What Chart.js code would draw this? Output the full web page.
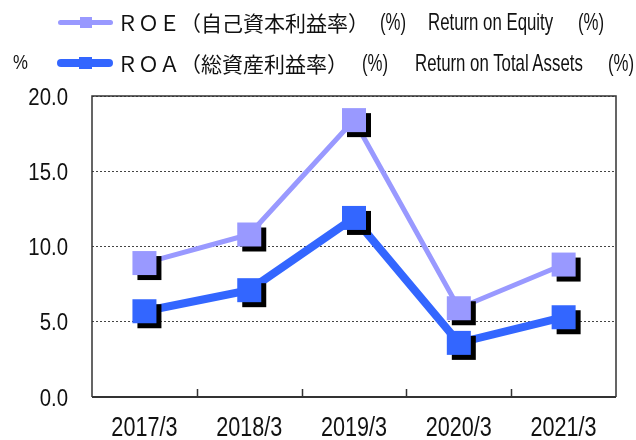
<!DOCTYPE html>
<html>
<head>
<meta charset="utf-8">
<script src="https://cdn.jsdelivr.net/npm/chart.js@4"></script>
<style>
	body { margin: 0; background: #fff; }
	.wrap { position: relative; width: 636px; height: 440px; }
	.wrap canvas { position: absolute; left: 0; top: 0; }
	.lg-line { position: absolute; border-radius: 4px; }
	.lg-mark { position: absolute; }
	.jp, .en, .unit {
		position: absolute; height: 30px; line-height: 30px;
		color: #111; white-space: pre;
	}
	.jp { font-family: "Noto Sans CJK JP", sans-serif; font-size: 21px; }
	.en {
		font-family: "Liberation Sans", Arial, sans-serif; font-size: 24px;
		transform: scaleX(0.7); transform-origin: 0 50%;
	}
	.unit {
		font-family: "Liberation Sans", Arial, sans-serif; font-size: 21px; left: 13px; top: 47px;
		transform: scaleX(0.8); transform-origin: 0 50%;
	}
</style>
</head>
<body>
<div class="wrap">
	<canvas id="chart" width="636" height="440"></canvas>

	<div class="lg-line" style="left:58px;width:55px;top:20px;height:5px;background:#9999FF"></div>
	<div class="lg-mark" style="left:80px;top:17px;width:12px;height:11px;background:#9999FF"></div>
	<div class="jp" style="left:117px;top:7px">ＲＯＥ（自己資本利益率）</div>
	<div class="en" style="left:380px;top:7px">(%)</div>
	<div class="en" style="left:428px;top:7px">Return on Equity</div>
	<div class="en" style="left:578px;top:7px">(%)</div>

	<div class="unit">%</div>
	<div class="lg-line" style="left:57px;width:56px;top:59px;height:8px;background:#3366FF"></div>
	<div class="lg-mark" style="left:79px;top:57px;width:13px;height:12px;background:#3366FF"></div>
	<div class="jp" style="left:117px;top:48px">ＲＯＡ（総資産利益率）</div>
	<div class="en" style="left:362px;top:48px">(%)</div>
	<div class="en" style="left:415px;top:48px">Return on Total Assets</div>
	<div class="en" style="left:608px;top:48px">(%)</div>
</div>

<script>
var categories = ['2017/3', '2018/3', '2019/3', '2020/3', '2021/3'];
var roeValues = [8.9, 10.8, 18.4, 5.9, 8.8];
var roaValues = [5.7, 7.1, 11.9, 3.6, 5.3];
var yTicks = [0, 5, 10, 15, 20];

var tickFont = '"Liberation Sans", Arial, sans-serif';

// square marker with a black drop shadow
function makeMarker(color) {
	var c = document.createElement('canvas');
	c.width = 42;
	c.height = 42;
	var ctx = c.getContext('2d');
	ctx.fillStyle = '#000';
	ctx.fillRect(14, 14, 24, 24);
	ctx.fillStyle = color;
	ctx.fillRect(9, 9, 24, 24);
	return c;
}

// condensed text, like Arial Narrow
function narrowText(ctx, text, x, y, sx) {
	ctx.save();
	ctx.translate(x, y);
	ctx.scale(sx, 1);
	ctx.fillText(text, 0, 0);
	ctx.restore();
}

// frame round the plot + small ticks between categories on the x axis
var framePlugin = {
	id: 'frame',
	beforeDatasetsDraw: function (chart) {
		var ctx = chart.ctx;
		var a = chart.chartArea;
		var x = chart.scales.x;
		ctx.save();
		ctx.strokeStyle = '#333';
		ctx.lineWidth = 1.5;
		ctx.beginPath();
		ctx.moveTo(a.left, a.bottom);
		ctx.lineTo(a.left, a.top);
		ctx.lineTo(a.right, a.top);
		ctx.lineTo(a.right, a.bottom);
		ctx.stroke();

		ctx.lineWidth = 2;
		ctx.beginPath();
		ctx.moveTo(a.left, a.bottom);
		ctx.lineTo(a.right, a.bottom);
		ctx.stroke();

		ctx.lineWidth = 1.5;
		ctx.beginPath();
		for (var i = 1; i < categories.length; i++) {
			var px = Math.round((x.getPixelForValue(i - 1) + x.getPixelForValue(i)) / 2) + 0.5;
			ctx.moveTo(px, a.bottom);
			ctx.lineTo(px, a.bottom - 8);
		}
		ctx.stroke();
		ctx.restore();
	},
	// tick labels drawn by hand so they can be narrow
	afterDraw: function (chart) {
		var ctx = chart.ctx;
		var a = chart.chartArea;
		var x = chart.scales.x;
		var y = chart.scales.y;
		ctx.save();
		ctx.fillStyle = '#111';

		ctx.font = '24px ' + tickFont;
		ctx.textAlign = 'right';
		ctx.textBaseline = 'middle';
		y.ticks.forEach(function (t) {
			narrowText(ctx, t.value.toFixed(1), a.left - 24, y.getPixelForValue(t.value) + 2, 0.85);
		});

		ctx.font = '27px ' + tickFont;
		ctx.textAlign = 'center';
		ctx.textBaseline = 'alphabetic';
		categories.forEach(function (c, i) {
			narrowText(ctx, c, x.getPixelForValue(i), a.bottom + 39, 0.8);
		});
		ctx.restore();
	}
};

new Chart(document.getElementById('chart'), {
	type: 'line',
	data: {
		labels: categories,
		datasets: [{
			label: 'ROE',
			data: roeValues,
			borderColor: '#9999FF',
			backgroundColor: '#9999FF',
			borderWidth: 5,
			pointStyle: makeMarker('#9999FF'),
			pointRadius: 12,
			order: 2
		}, {
			label: 'ROA',
			data: roaValues,
			borderColor: '#3366FF',
			backgroundColor: '#3366FF',
			borderWidth: 8,
			pointStyle: makeMarker('#3366FF'),
			pointRadius: 12,
			order: 1
		}]
	},
	options: {
		responsive: false,
		animation: false,
		events: [],
		layout: {
			padding: { top: 96, right: 18, left: 0, bottom: 0 }
		},
		scales: {
			x: {
				offset: true,
				grid: { display: false },
				border: { display: false },
				ticks: { display: false },
				afterFit: function (scale) {
					scale.height = 43;
				}
			},
			y: {
				min: 0,
				max: 20,
				afterBuildTicks: function (scale) {
					scale.ticks = yTicks.map(function (v) { return { value: v }; });
				},
				grid: {
					color: '#444',
					lineWidth: 1,
					drawTicks: false
				},
				border: { display: false, dash: [2, 2] },
				ticks: { display: false },
				afterFit: function (scale) {
					scale.width = 92;
				}
			}
		},
		plugins: {
			legend: { display: false },
			tooltip: { enabled: false }
		}
	},
	plugins: [framePlugin]
});
</script>
</body>
</html>
